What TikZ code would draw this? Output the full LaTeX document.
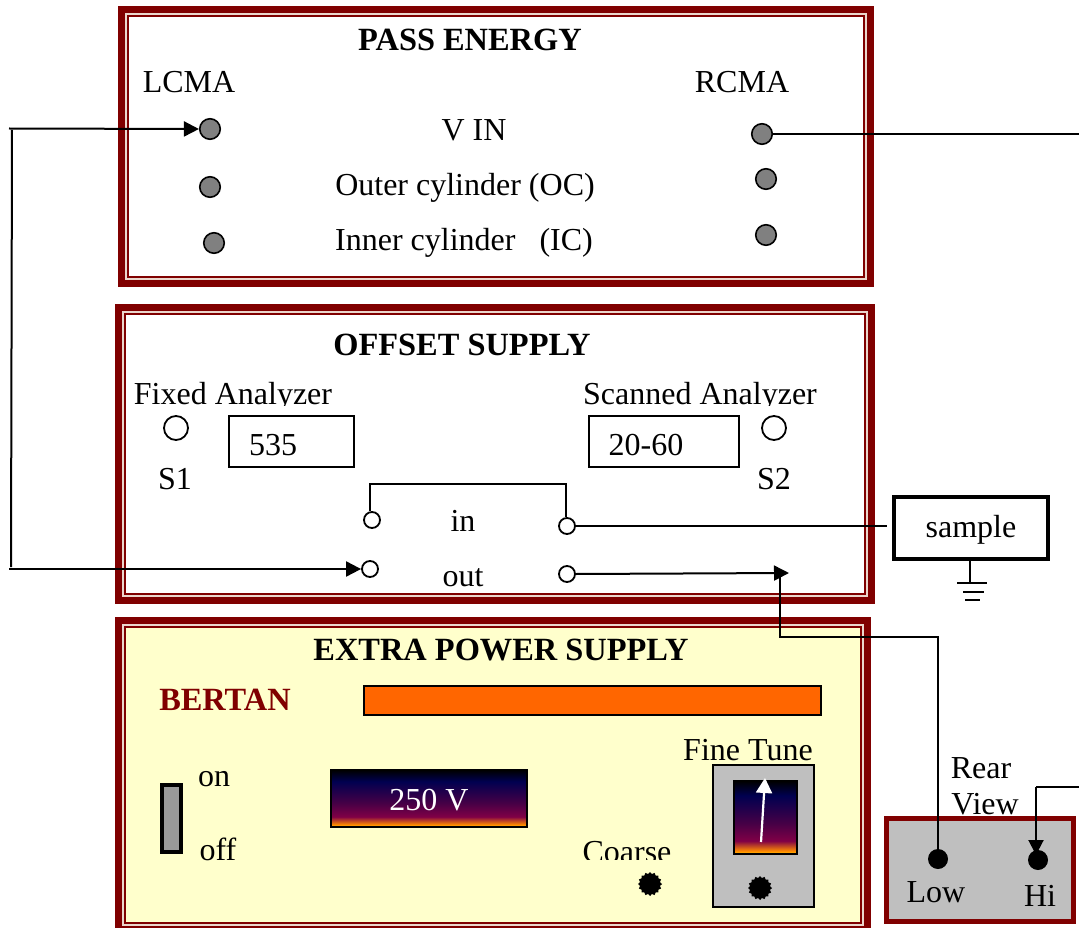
\documentclass[tikz,border=0pt]{standalone}
\usepackage{fontspec}
\setmainfont{Liberation Serif}
\usetikzlibrary{arrows.meta,shapes.geometric}
\definecolor{frm}{RGB}{128,0,0}
\definecolor{frmgap}{RGB}{235,215,205}
\definecolor{cream}{RGB}{255,255,204}
\definecolor{fy}{RGB}{255,204,0}
\definecolor{fo}{RGB}{255,140,0}
\definecolor{fm}{RGB}{128,0,70}
\definecolor{fp}{RGB}{70,0,70}
\definecolor{fn}{RGB}{0,0,80}
\pgfdeclareverticalshading{fire}{100bp}{
 color(0bp)=(fy);
 color(25bp)=(fy);
 color(27bp)=(fo);
 color(34bp)=(fm);
 color(46bp)=(fp);
 color(65bp)=(fn);
 color(75bp)=(black);
 color(100bp)=(black)}
\newcommand{\panel}[5]{% x0 y0 x1 y1 fill
 \fill[frm] (#1,#2) rectangle (#3,#4);
 \fill[frmgap] (#1+7,#2+7) rectangle (#3-7,#4-7);
 \fill[frm] (#1+9,#2+9) rectangle (#3-9,#4-9);
 \fill[#5] (#1+11,#2+11) rectangle (#3-11,#4-11);}
\tikzset{
 x=1pt,y=-1pt,
 lbl/.style={inner sep=0pt,font=\fontsize{32}{36}\selectfont,text=black},
 ttl/.style={inner sep=0pt,font=\fontsize{32.4}{36}\selectfont\bfseries,text=black},
 wire/.style={draw=black,line width=2pt},
 arr/.style={wire,-{Triangle[length=15pt,width=15pt]}},
 graydot/.style={circle,draw=black,line width=1.6pt,fill=gray,minimum size=20.5pt,inner sep=0pt},
 opendot/.style={circle,draw=black,line width=1.8pt,fill=white,minimum size=16pt,inner sep=0pt},
 bigopen/.style={circle,draw=black,line width=1.8pt,fill=white,minimum size=24pt,inner sep=0pt},
 blackdot/.style={circle,fill=black,minimum size=20pt,inner sep=0pt},
 knob/.style={star,star points=16,star point ratio=1.18,fill=black,draw=none,minimum size=24pt,inner sep=0pt},
 valbox/.style={draw=black,line width=1.8pt,fill=white,inner sep=0pt},
}
\begin{document}
\begin{tikzpicture}
\useasboundingbox (0,0) rectangle (1079,928);
\fill[white] (0,0) rectangle (1079,928);
\panel{118}{6}{874}{287}{white}
\panel{115}{304}{875}{604}{white}
\begin{scope}
\clip (0,0) rectangle (1079,928);
\panel{115}{617}{871}{933}{cream}
\end{scope}
% pass energy
\node[ttl] (t1) at (470,40) {PASS ENERGY};
\node[lbl] (lcma) at (189,82) {LCMA};
\node[lbl] (rcma) at (742,82) {RCMA};
\node[lbl] (vin) at (474,130) {V IN};
\node[lbl] (oc) at (465,188) {Outer cylinder (OC)};
\node[lbl] (ic) at (464,243) {Inner cylinder \ \ (IC)};
\node[graydot] (l1) at (210,129) {};
\node[graydot] (l2) at (210,187) {};
\node[graydot] (l3) at (214,243) {};
\node[graydot] (r1) at (762,134) {};
\node[graydot] (r2) at (766,179) {};
\node[graydot] (r3) at (766,235) {};
% offset supply
\node[ttl] (t2) at (462,345) {OFFSET SUPPLY};
\begin{scope}
\clip (120,370) rectangle (860,405);
\node[lbl] (fa) at (233,397) {Fixed Analyzer};
\node[lbl] (sa) at (700,397) {Scanned Analyzer};
\end{scope}
\node[bigopen] (s1c) at (176,428) {};
\node[bigopen] (s2c) at (774,428) {};
\node[lbl] (s1) at (175,479) {S1};
\node[lbl] (s2) at (774,479) {S2};
\node[valbox,minimum width=125pt,minimum height=51pt] (b535) at (291.5,441.5) {};
\node[lbl] (v535) at (273,445) {535};
\node[valbox,minimum width=150pt,minimum height=51pt] (b2060) at (664,441.5) {};
\node[lbl] (v2060) at (646,445) {20-60};
\node[opendot] (in1) at (372,520) {};
\node[opendot] (in2) at (567,526) {};
\node[opendot] (out1) at (370,569) {};
\node[opendot] (out2) at (567,574) {};
\node[lbl] (inl) at (463,521) {in};
\node[lbl] (outl) at (463,578) {out};
% sample
\node[draw=black,line width=4.5pt,fill=white,minimum width=154pt,minimum height=62pt,inner sep=0pt] (sample) at (971,528) {};
\node[lbl] (samplel) at (971,530) {sample};
\coordinate (g0) at (970,583);
\draw[wire] (sample.south -| g0) -- (g0);
\draw[line width=2pt] (957,583) -- (987,583) (963,592) -- (984,592) (965,600) -- (980,600);
% extra supply
\node[ttl] (t3) at (501,650) {EXTRA POWER SUPPLY};
\node[ttl,text=frm] (bertan) at (225,700) {BERTAN};
\node[draw=black,line width=1.8pt,fill={rgb,255:red,255;green,102;blue,0},minimum width=457pt,minimum height=29pt,inner sep=0pt] (bar) at (592.5,700.5) {};
\node[draw=black,line width=4.5pt,fill=gray!80,minimum width=19pt,minimum height=67pt,inner sep=0pt] (sw) at (171.5,818.5) {};
\node[lbl] (on) at (214,779) {on};
\node[lbl] (off) at (218,849) {off};
\node[draw=black,line width=1.8pt,shading=fire,minimum width=196pt,minimum height=57pt,inner sep=0pt] (disp) at (429,798.5) {};
\node[lbl,text=white] (dispv) at (429,800) {250 V};
\node[lbl] (ft) at (748,750) {Fine Tune};
\node[draw=black,line width=1.8pt,fill=gray!50!white,minimum width=101pt,minimum height=142pt,inner sep=0pt] (fp) at (763.5,836) {};
\node[draw=black,line width=1.8pt,shading=fire,minimum width=63pt,minimum height=73pt,inner sep=0pt] (meter) at (765.5,817.5) {};
\coordinate (n0) at (761,842);
\coordinate (n1) at (765,778);
\draw[draw=white,line width=2.2pt,-{Triangle[length=15pt,width=16pt]}] (n0) -- (n1);
\node[knob] (k1) at (760,888) {};
\node[knob] (k2) at (650,884) {};
\begin{scope}
\clip (570,830) rectangle (690,859.5);
\node[lbl] (coarse) at (627,852.5) {Coarse};
\end{scope}
% rear
\node[draw=frm,line width=5.5pt,fill=gray!50!white,minimum width=187pt,minimum height=103pt,inner sep=0pt] (rear) at (980,870) {};
\node[lbl] (rv1) at (981,768) {Rear};
\node[lbl] (rv2) at (985,804) {View};
\node[blackdot] (low) at (938,859) {};
\node[blackdot] (hi) at (1038,860) {};
\node[lbl] (lowl) at (936,892) {Low};
\node[lbl] (hil) at (1040,896) {Hi};
% connectors
\coordinate (a0) at (9,128.5);
\coordinate (a1) at (12,130);
\coordinate (a2) at (11,567);
\coordinate (a3) at (9,569);
\draw[arr] (a0) -- (l1.west);
\draw[wire] (a1) -- (a2);
\draw[arr] (a3) -- (out1.west);
\coordinate (re) at (1079,134);
\draw[wire] (r1.east) -- (re);
\draw[wire] (in1.north) ++(-2,0) |- (566,484) -- (in2.north -| 566,0);
\draw[wire] (in2.east) -- ([xshift=-5pt]sample.west |- in2);
\coordinate (tip) at (789,573);
\draw[arr] (out2.east) -- (tip);
\coordinate (c1) at (780,575);
\coordinate (c2) at (938,637);
\draw[wire] (c1) |- (c2) -- (low.center);
\coordinate (h0) at (1079,787);
\coordinate (h1) at (1036,787);
\coordinate (h2) at (1036,855);
\draw[wire] (h0) -- (h1);
\draw[arr] (h1) -- (h2);
\end{tikzpicture}
\end{document}
